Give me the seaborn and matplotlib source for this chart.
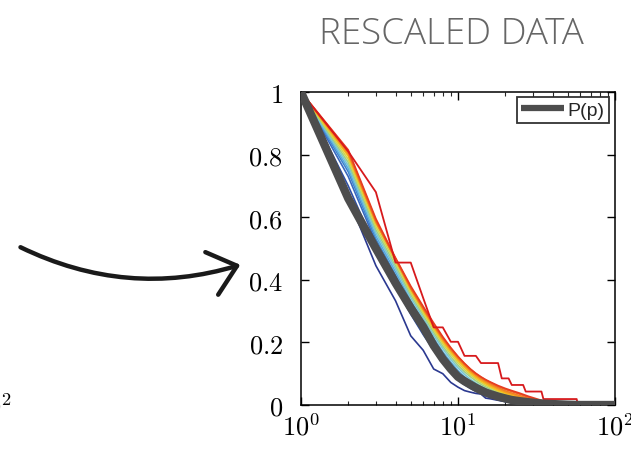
import numpy as np
import pandas as pd
import matplotlib
matplotlib.use("Agg")
import matplotlib.pyplot as plt
import seaborn as sns
from matplotlib.patches import FancyArrowPatch
from matplotlib.lines import Line2D
from matplotlib.ticker import FixedLocator, LogLocator, NullFormatter

# ---------------- data ----------------
p_grid = [1, 2, 3, 4, 5, 6, 7, 8, 9, 10, 11, 12, 13, 14, 15, 16, 18, 20, 22, 25,
          28, 32, 36, 40, 45, 50, 60, 100]

P_gray = [1, 0.66, 0.50, 0.39, 0.31, 0.25, 0.19, 0.147, 0.115, 0.09, 0.076, 0.065,
          0.055, 0.047, 0.040, 0.035, 0.027, 0.021, 0.016, 0.012, 0.009, 0.006,
          0.004, 0.003, 0.002, 0.001, 0.0, 0.0]

navy = [1, 0.66, 0.445, 0.333, 0.221, 0.175, 0.115, 0.10, 0.072, 0.057, 0.046, 0.041,
        0.037, 0.035, 0.022, 0.020, 0.015, 0.011, 0.008, 0.003, 0, 0, 0, 0, 0, 0, 0, 0]
c1 = [1, 0.70, 0.50, 0.38, 0.29, 0.225, 0.175, 0.135, 0.105, 0.08, 0.065, 0.053,
      0.044, 0.037, 0.030, 0.025, 0.017, 0.011, 0.007, 0.003, 0.001, 0, 0, 0, 0, 0, 0, 0]
c2 = [1, 0.73, 0.52, 0.40, 0.305, 0.24, 0.185, 0.145, 0.115, 0.09, 0.073, 0.060,
      0.050, 0.042, 0.035, 0.030, 0.021, 0.014, 0.009, 0.005, 0.002, 0.001, 0, 0, 0, 0, 0, 0]
c3 = [1, 0.745, 0.53, 0.415, 0.32, 0.255, 0.20, 0.158, 0.126, 0.10, 0.082, 0.068,
      0.057, 0.048, 0.041, 0.035, 0.025, 0.017, 0.012, 0.007, 0.004, 0.002, 0.001, 0, 0, 0, 0, 0]
c4 = [1, 0.755, 0.54, 0.425, 0.333, 0.268, 0.213, 0.17, 0.137, 0.11, 0.09, 0.075,
      0.063, 0.054, 0.046, 0.040, 0.029, 0.021, 0.015, 0.009, 0.005, 0.003, 0.0015, 0.0005, 0, 0, 0, 0]
c5 = [1, 0.765, 0.55, 0.435, 0.343, 0.278, 0.223, 0.18, 0.146, 0.119, 0.098, 0.082,
      0.070, 0.060, 0.052, 0.045, 0.034, 0.025, 0.019, 0.012, 0.007, 0.004, 0.002, 0.001, 0, 0, 0, 0]
c6 = [1, 0.775, 0.56, 0.445, 0.352, 0.287, 0.232, 0.188, 0.154, 0.127, 0.106, 0.09,
      0.077, 0.066, 0.058, 0.051, 0.039, 0.030, 0.023, 0.015, 0.009, 0.005, 0.003, 0.0015, 0.0005, 0, 0, 0]
c7 = [1, 0.785, 0.57, 0.455, 0.36, 0.295, 0.24, 0.196, 0.162, 0.135, 0.113, 0.096,
      0.083, 0.072, 0.063, 0.056, 0.043, 0.034, 0.027, 0.018, 0.011, 0.006, 0.0035, 0.002, 0.001, 0, 0, 0]
c8 = [1, 0.795, 0.58, 0.465, 0.368, 0.302, 0.247, 0.203, 0.169, 0.142, 0.12, 0.102,
      0.088, 0.077, 0.068, 0.060, 0.047, 0.038, 0.030, 0.021, 0.014, 0.008, 0.0045, 0.0025, 0.001, 0, 0, 0]
c9 = [1, 0.80, 0.585, 0.468, 0.372, 0.306, 0.252, 0.208, 0.174, 0.147, 0.125, 0.107,
      0.093, 0.081, 0.072, 0.064, 0.051, 0.041, 0.034, 0.025, 0.017, 0.010, 0.0055, 0.003, 0.001, 0, 0, 0]
c10 = [1, 0.805, 0.585, 0.465, 0.372, 0.307, 0.254, 0.211, 0.177, 0.15, 0.128, 0.11,
       0.096, 0.085, 0.076, 0.068, 0.055, 0.045, 0.038, 0.029, 0.021, 0.013, 0.007, 0.0035, 0.0015, 0, 0, 0]
c11 = [1, 0.81, 0.59, 0.468, 0.376, 0.311, 0.258, 0.215, 0.181, 0.154, 0.132, 0.114,
       0.100, 0.089, 0.080, 0.072, 0.059, 0.050, 0.043, 0.034, 0.025, 0.016, 0.009, 0.004, 0.002, 0, 0, 0]
c12 = [1, 0.815, 0.595, 0.47, 0.38, 0.315, 0.262, 0.218, 0.183, 0.155, 0.133, 0.115,
       0.101, 0.090, 0.081, 0.074, 0.062, 0.053, 0.046, 0.037, 0.028, 0.019, 0.011, 0.005, 0.002, 0, 0, 0]

# jagged small-sample curve (integer p)
red_p = list(range(1, 61)) + [100]
red_vals = [1, 0.81, 0.68, 0.455, 0.455, 0.342, 0.248, 0.248, 0.202, 0.202,
            0.157, 0.157, 0.157, 0.134, 0.134, 0.134, 0.134, 0.134, 0.085, 0.085,
            0.085, 0.064, 0.064, 0.064, 0.064, 0.064, 0.043, 0.043, 0.043, 0.043,
            0.043, 0.043, 0.043, 0.043, 0.019, 0.019, 0.019, 0.019, 0.019, 0.019,
            0.019, 0.019, 0.019, 0.019, 0.019, 0.019, 0.019, 0.019, 0.019, 0.019,
            0.019, 0.019, 0.019, 0.019, 0.019, 0.019, 0.019, 0, 0, 0, 0]

series = [navy, c1, c2, c3, c4, c5, c6, c7, c8, c9, c10, c11, c12]
series_colors = ["#2b3990", "#2e4fa5", "#3767bf", "#3f83cf", "#5aa9dc", "#78c6d6",
                 "#9dcf86", "#cfd650", "#f6c21a", "#f5a31f", "#f28321", "#ee6222",
                 "#e63d20"]
red_color = "#d7191c"
gray_color = "#4d4d4d"

x_ticks = [1, 10, 100]
x_ticklabels = [r"$10^0$", r"$10^1$", r"$10^2$"]
y_ticks = [0, 0.2, 0.4, 0.6, 0.8, 1]
y_ticklabels = [r"$0$", r"$0.2$", r"$0.4$", r"$0.6$", r"$0.8$", r"$1$"]

# ---------------- figure ----------------
sns.set_style("ticks")
plt.rcParams["mathtext.fontset"] = "cm"
plt.rcParams["font.family"] = ["DejaVu Sans"]

W, H = 631, 456
fig = plt.figure(figsize=(W / 100, H / 100), dpi=100)
ax = fig.add_axes([301 / W, 1 - 406 / H, (615 - 301) / W, (406 - 93) / H])

for vals, col in zip(series, series_colors):
    d = pd.DataFrame({"p": p_grid, "P": vals})
    sns.lineplot(data=d, x="p", y="P", ax=ax, color=col, lw=1.2, zorder=3,
                 estimator=None, sort=False, legend=False)
dr = pd.DataFrame({"p": red_p, "P": red_vals})
sns.lineplot(data=dr, x="p", y="P", ax=ax, color=red_color, lw=1.3, zorder=3.1,
             estimator=None, sort=False, legend=False)
dg = pd.DataFrame({"p": p_grid, "P": P_gray})
sns.lineplot(data=dg, x="p", y="P", ax=ax, color=gray_color, lw=6, zorder=4,
             estimator=None, sort=False, legend=False, solid_capstyle="butt")

ax.set_xscale("log")
ax.set_xlim(1, 100)
ax.set_ylim(0, 1)
ax.set_xlabel("")
ax.set_ylabel("")
ax.xaxis.set_major_locator(FixedLocator(x_ticks))
ax.set_xticklabels(x_ticklabels)
ax.xaxis.set_minor_locator(LogLocator(base=10, subs=np.arange(2, 10)))
ax.xaxis.set_minor_formatter(NullFormatter())
ax.set_yticks(y_ticks)
ax.set_yticklabels(y_ticklabels)

for s in ax.spines.values():
    s.set_visible(True)
    s.set_linewidth(1.1)
    s.set_color("black")
ax.tick_params(axis="both", which="major", direction="in", length=6, width=1.0,
               top=True, right=True, labelsize=19, colors="black")
ax.tick_params(axis="x", which="minor", direction="in", length=3, width=0.8,
               top=True, bottom=True)
ax.tick_params(axis="y", which="major", pad=13)
ax.tick_params(axis="x", which="major", pad=6)

handle = Line2D([0], [0], color=gray_color, lw=4.5, solid_capstyle="butt")
leg = ax.legend([handle], ["P(p)"], loc="upper right", bbox_to_anchor=(0.98, 0.983),
                borderaxespad=0, frameon=True, fancybox=False, handlelength=2.2,
                handletextpad=0.2, borderpad=0.2,
                prop={"family": "Liberation Sans", "size": 14})
leg.get_frame().set_edgecolor("black")
leg.get_frame().set_linewidth(1.3)
leg.set_zorder(10)

# title
fig.text(451 / W, 1 - 34 / H, "RESCALED DATA", ha="center", va="center",
         fontsize=26.5, color="#666666", family=["Open Sans", "DejaVu Sans"],
         fontweight="light")

# curved arrow
arrow = FancyArrowPatch((18 / W, 1 - 247 / H), (243 / W, 1 - 265 / H),
                        transform=fig.transFigure,
                        connectionstyle="arc3,rad=0.2",
                        arrowstyle="->,head_length=1.9,head_width=1.6",
                        mutation_scale=10, lw=3.2, color="#1a1a1a")
fig.patches.append(arrow)

# cut-off label of the neighbouring panel
fig.text(12 / W, 1 - 416 / H, r"$10^2$", ha="right", va="baseline", fontsize=19,
         color="black")

fig.savefig("out.png", dpi=100)
